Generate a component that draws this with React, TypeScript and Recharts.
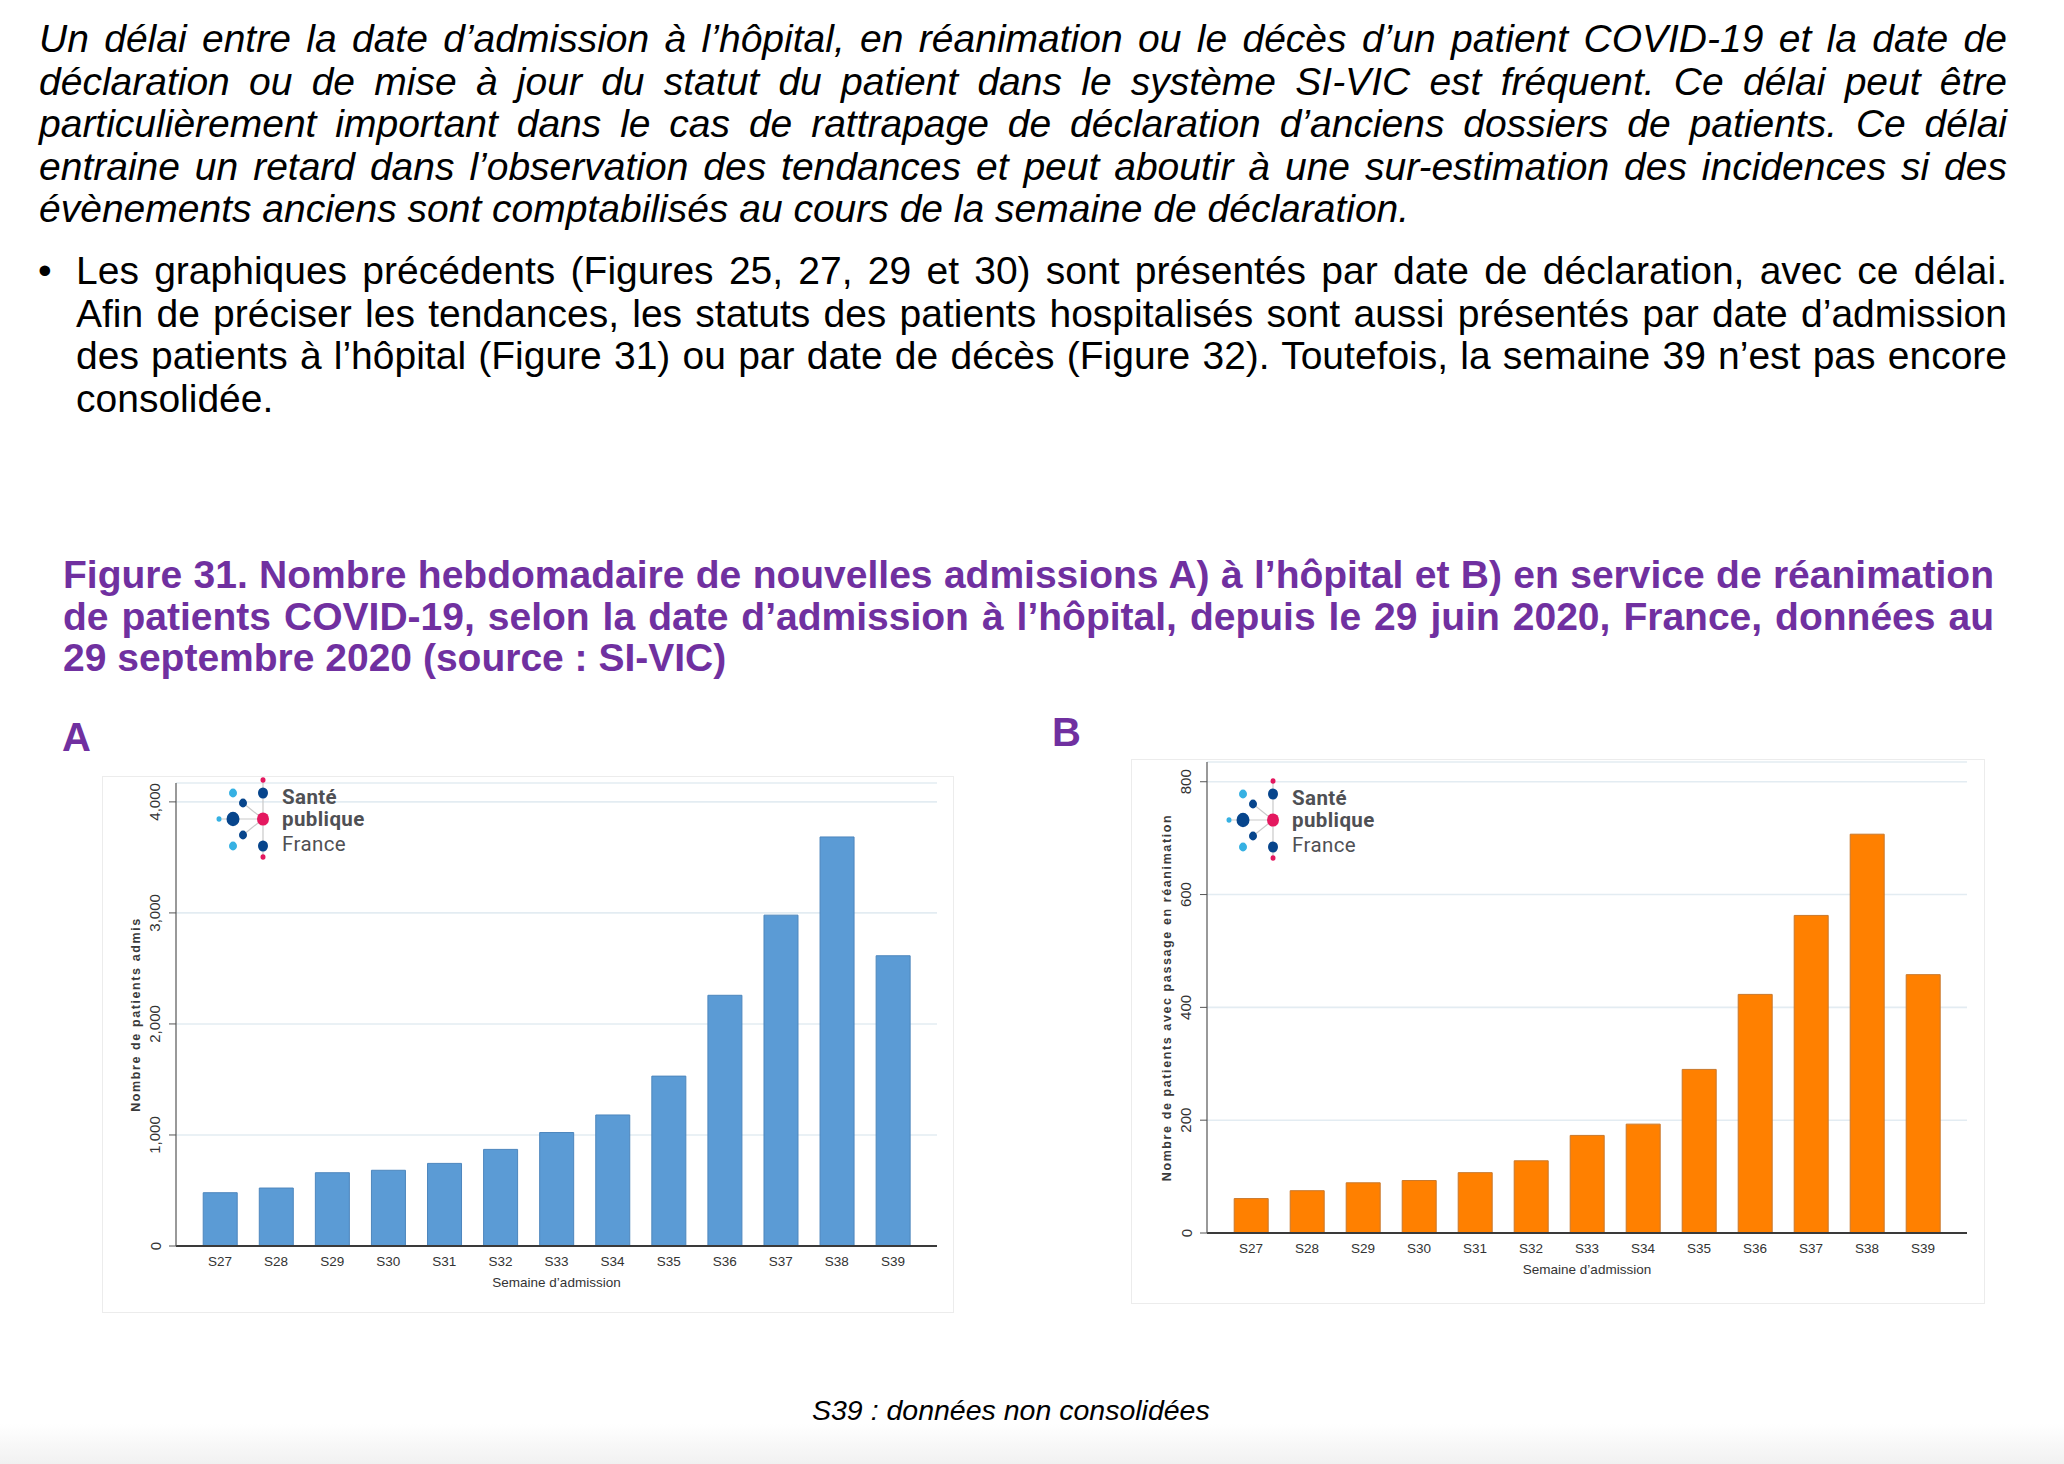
import React from "react";
import { BarChart, Bar, XAxis, YAxis, CartesianGrid, Label } from "recharts";

const weeks = ["S27", "S28", "S29", "S30", "S31", "S32", "S33", "S34", "S35", "S36", "S37", "S38", "S39"];
const admisHopital = [480, 522, 660, 682, 744, 870, 1022, 1180, 1530, 2258, 2980, 3684, 2614];
const admisRea = [61, 75, 89, 93, 107, 128, 173, 193, 290, 423, 563, 707, 458];
const ticksA = [0, 1000, 2000, 3000, 4000];
const ticksB = [0, 200, 400, 600, 800];

const para1 = [
  "Un délai entre la date d’admission à l’hôpital, en réanimation ou le décès d’un patient COVID-19 et la date de",
  "déclaration ou de mise à jour du statut du patient dans le système SI-VIC est fréquent. Ce délai peut être",
  "particulièrement important dans le cas de rattrapage de déclaration d’anciens dossiers de patients. Ce délai",
  "entraine un retard dans l’observation des tendances et peut aboutir à une sur-estimation des incidences si des",
  "évènements anciens sont comptabilisés au cours de la semaine de déclaration.",
];
const bullet = [
  "Les graphiques précédents (Figures 25, 27, 29 et 30) sont présentés par date de déclaration, avec ce délai.",
  "Afin de préciser les tendances, les statuts des patients hospitalisés sont aussi présentés par date d’admission",
  "des patients à l’hôpital (Figure 31) ou par date de décès (Figure 32). Toutefois, la semaine 39 n’est pas encore",
  "consolidée.",
];
const caption = [
  "Figure 31. Nombre hebdomadaire de nouvelles admissions A) à l’hôpital et B) en service de réanimation",
  "de patients COVID-19, selon la date d’admission à l’hôpital, depuis le 29 juin 2020, France, données au",
  "29 septembre 2020 (source : SI-VIC)",
];

const dataA = weeks.map((w, i) => ({ week: w, value: admisHopital[i] }));
const dataB = weeks.map((w, i) => ({ week: w, value: admisRea[i] }));

const FONT = "'Liberation Sans', Arial, Helvetica, sans-serif";
const PURPLE = "#7030a0";

function Lines({ lines, style }: { lines: string[]; style: React.CSSProperties }) {
  return (
    <div style={{ position: "absolute", fontFamily: FONT, color: "#000", ...style }}>
      {lines.map((l, i) => (
        <div
          key={i}
          style={{
            textAlign: "justify",
            textAlignLast: i === lines.length - 1 ? "left" : "justify",
          }}
        >
          {l}
        </div>
      ))}
    </div>
  );
}

const fmt = (v: number) => v.toLocaleString("en-US");

function YTick(props: any) {
  const { x, y, payload } = props;
  const cx = x - 14;
  return (
    <text
      x={cx}
      y={y}
      transform={`rotate(-90, ${cx}, ${y})`}
      textAnchor="middle"
      dominantBaseline="central"
      fontSize={15}
      fill="#333"
      fontFamily={FONT}
    >
      {fmt(payload.value)}
    </text>
  );
}

function XTick(props: any) {
  const { x, y, payload } = props;
  return (
    <text x={x} y={y + 15} textAnchor="middle" dominantBaseline="central" fontSize={13.5} fill="#333" fontFamily={FONT}>
      {payload.value}
    </text>
  );
}

function Logo({ cx, cy }: { cx: number; cy: number }) {
  const navy = "#07458c";
  const cyan = "#36b1e3";
  const pink = "#e4185f";
  const dots: [number, number, number, string][] = [
    [0, -39, 2.5, pink],
    [0, -26, 5, navy],
    [-30, -26, 4, cyan],
    [-20, -16, 4, navy],
    [-30, 0, 6.5, navy],
    [-44, 0, 2.5, cyan],
    [0, 0, 6, pink],
    [-20, 16, 4, navy],
    [-30, 27, 4, cyan],
    [0, 27, 5, navy],
    [0, 38, 2.5, pink],
  ];
  const ox = 60;
  const oy = 45;
  return (
    <svg
      width={200}
      height={95}
      style={{ position: "absolute", left: cx - ox, top: cy - oy, overflow: "visible" }}
    >
      <g stroke="#c9c9c9" strokeWidth={1.2}>
        <line x1={ox} y1={oy - 39} x2={ox} y2={oy + 38} />
        <line x1={ox} y1={oy} x2={ox - 44} y2={oy} />
        <line x1={ox} y1={oy} x2={ox - 20} y2={oy - 16} />
        <line x1={ox} y1={oy} x2={ox - 20} y2={oy + 16} />
      </g>
      {dots.map(([dx, dy, r, c], i) => (
        <ellipse key={i} cx={ox + dx} cy={oy + dy} rx={r} ry={r * 1.1} fill={c} />
      ))}
      <text fill="#4f5054" fontFamily="Roboto, sans-serif" fontSize={20.5} letterSpacing={0.4}>
        <tspan x={ox + 19} y={oy - 15} fontWeight={700}>Santé</tspan>
        <tspan x={ox + 19} y={oy + 7} fontWeight={700}>publique</tspan>
        <tspan x={ox + 19} y={oy + 32} fontWeight={400}>France</tspan>
      </text>
    </svg>
  );
}

function WeeklyChart({
  data, color, stroke, domain, ticks, yTitle, width, height, yWidth, xHeight, top, right,
}: {
  data: { week: string; value: number }[];
  color: string;
  stroke: string;
  domain: [number, number];
  ticks: number[];
  yTitle: string;
  width: number;
  height: number;
  yWidth: number;
  xHeight: number;
  top: number;
  right: number;
}) {
  return (
    <BarChart
      width={width}
      height={height}
      data={data}
      margin={{ top, right, left: 0, bottom: 0 }}
      barCategoryGap="20%"
    >
      <CartesianGrid vertical={false} stroke="#e3ecf2" strokeWidth={1.6} />
      <XAxis
        dataKey="week"
        height={xHeight}
        padding={{ left: 16, right: 16 }}
        tickLine={false}
        tickSize={0}
        tickMargin={0}
        axisLine={{ stroke: "#3a3a3a", strokeWidth: 2.2 }}
        tick={<XTick />}
        interval={0}
      >
        <Label
          content={(p: any) => {
            const vb = p.viewBox;
            return (
              <text
                x={vb.x + vb.width / 2}
                y={vb.y + 36}
                textAnchor="middle"
                dominantBaseline="central"
                fontSize={13.5}
                fill="#333"
                fontFamily={FONT}
              >
                Semaine d’admission
              </text>
            );
          }}
        />
      </XAxis>
      <YAxis
        width={yWidth}
        domain={domain}
        ticks={ticks}
        allowDataOverflow
        tickSize={7}
        tickMargin={0}
        tickLine={{ stroke: "#555" }}
        axisLine={{ stroke: "#555", strokeWidth: 1.2 }}
        tick={<YTick />}
      >
        <Label
          content={(p: any) => {
            const vb = p.viewBox;
            const cx = vb.x + vb.width - 40;
            const cy = vb.y + vb.height / 2;
            return (
              <text
                x={cx}
                y={cy}
                transform={`rotate(-90, ${cx}, ${cy})`}
                textAnchor="middle"
                dominantBaseline="central"
                fontSize={12.5}
                letterSpacing={1.6}
                fontWeight={700}
                fill="#3a3a3a"
                fontFamily={FONT}
              >
                {yTitle}
              </text>
            );
          }}
        />
      </YAxis>
      <Bar dataKey="value" fill={color} stroke={stroke} strokeWidth={1} isAnimationActive={false} />
    </BarChart>
  );
}

export default function App() {
  return (
    <div
      style={{
        position: "absolute",
        left: 0,
        top: 0,
        width: 2064,
        height: 1464,
        background: "#fff",
        overflow: "hidden",
        fontFamily: FONT,
      }}
    >
      <Lines lines={para1} style={{ left: 39, top: 18, width: 1968, fontSize: 39, lineHeight: "42.5px", fontStyle: "italic" }} />
      <div style={{ position: "absolute", left: 38, top: 250, fontSize: 39, lineHeight: "42.5px", fontFamily: FONT }}>•</div>
      <Lines lines={bullet} style={{ left: 76, top: 250, width: 1931, fontSize: 39, lineHeight: "42.5px" }} />
      <Lines
        lines={caption}
        style={{ left: 63, top: 554, width: 1931, fontSize: 39, lineHeight: "41.5px", fontWeight: 700, color: PURPLE }}
      />
      <div style={{ position: "absolute", left: 62, top: 713, fontSize: 40, lineHeight: "48px", fontWeight: 700, color: PURPLE }}>A</div>
      <div style={{ position: "absolute", left: 1052, top: 708, fontSize: 40, lineHeight: "48px", fontWeight: 700, color: PURPLE }}>B</div>

      <div style={{ position: "absolute", left: 103, top: 777, width: 850, height: 535, outline: "1px solid #ececec" }}>
        <WeeklyChart
          data={dataA}
          color="#5b9bd5"
          stroke="#4d86bd"
          domain={[0, 4170]}
          ticks={ticksA}
          yTitle="Nombre de patients admis"
          width={850}
          height={535}
          yWidth={73}
          xHeight={66}
          top={6}
          right={16}
        />
      </div>
      <Logo cx={263} cy={819} />

      <div style={{ position: "absolute", left: 1132, top: 760, width: 852, height: 543, outline: "1px solid #ececec" }}>
        <WeeklyChart
          data={dataB}
          color="#ff8000"
          stroke="#c9782c"
          domain={[0, 835]}
          ticks={ticksB}
          yTitle="Nombre de patients avec passage en réanimation"
          width={852}
          height={543}
          yWidth={75}
          xHeight={70}
          top={2}
          right={17}
        />
      </div>
      <Logo cx={1273} cy={820} />

      <div
        style={{
          position: "absolute",
          left: 812,
          top: 1392,
          fontSize: 28.5,
          fontStyle: "italic",
          lineHeight: "36px",
          whiteSpace: "nowrap",
        }}
      >
        S39 : données non consolidées
      </div>
      <div
        style={{
          position: "absolute",
          left: 0,
          top: 1424,
          width: 2064,
          height: 40,
          background: "linear-gradient(#ffffff, #f1f1f1)",
        }}
      />
    </div>
  );
}
